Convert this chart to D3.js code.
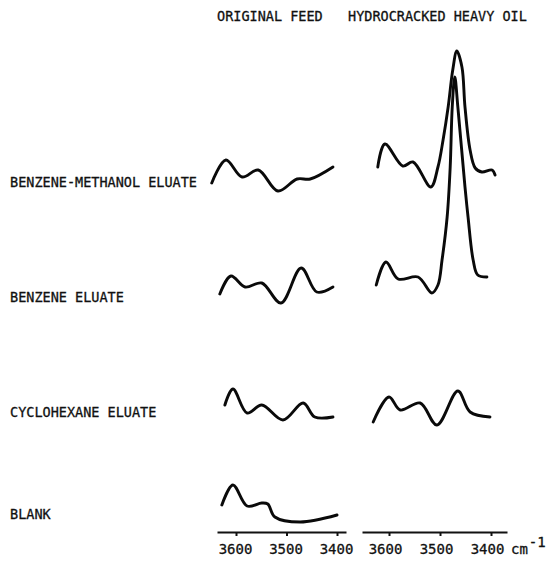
<!DOCTYPE html>
<html>
<head>
<meta charset="utf-8">
<script src="https://cdn.jsdelivr.net/npm/d3@7"></script>
<style>
  body { margin: 0; padding: 0; background: #fff; }
  svg { display: block; }
  text { font-family: 'DejaVu Sans Mono', monospace; fill: #111; stroke: #111; stroke-width: 0.3; }
</style>
</head>
<body>
<div id="main"></div>
<script>
const panelTitles = ['ORIGINAL FEED', 'HYDROCRACKED HEAVY OIL'];
const sampleNames = ['BENZENE-METHANOL ELUATE', 'BENZENE ELUATE', 'CYCLOHEXANE ELUATE', 'BLANK'];
const tickValues = [3600, 3500, 3400];
const unitLabel = 'cm';
const unitPower = '-1';

// spectra as [wavenumber (cm-1), relative absorbance above the row baseline]
const feedBenzeneMethanol = [
    [3648, -0.01], [3620, 0.22], [3588, 0.05], [3556, 0.12], [3517, -0.09],
    [3479, 0.03], [3453, 0.03], [3408, 0.15]
];
const feedBenzene = [
    [3632, 0.03], [3610, 0.21], [3582, 0.10], [3549, 0.14], [3511, -0.06],
    [3471, 0.29], [3440, 0.05], [3408, 0.10]
];
const feedCyclohexane = [
    [3622, 0.07], [3606, 0.23], [3578, -0.01], [3549, 0.07], [3507, -0.08],
    [3467, 0.09], [3444, -0.05], [3408, -0.05]
];
const feedBlank = [
    [3628, 0.09], [3606, 0.29], [3578, 0.08], [3549, 0.11], [3537, 0.10],
    [3523, -0.03], [3473, -0.08], [3400, -0.01]
];
const crackedBenzeneMethanol = [
    [3622, 0.15], [3608, 0.38], [3573, 0.16], [3553, 0.20], [3518, -0.05],
    [3504, 0.15], [3494, 0.42], [3484, 0.75], [3475, 1.12], [3467, 1.31],
    [3457, 1.15], [3451, 0.75], [3441, 0.32], [3431, 0.14], [3418, 0.10],
    [3398, 0.12], [3392, 0.07]
];
const crackedBenzene = [
    [3625, 0.12], [3606, 0.35], [3582, 0.18], [3543, 0.20], [3516, 0.04],
    [3504, 0.12], [3496, 0.37], [3486, 0.80], [3480, 1.30], [3476, 1.90],
    [3471, 2.20], [3465, 1.90], [3451, 1.10], [3445, 0.80], [3435, 0.37],
    [3426, 0.22], [3408, 0.20]
];
const crackedCyclohexane = [
    [3631, -0.10], [3600, 0.15], [3578, 0.02], [3539, 0.09], [3506, -0.13],
    [3465, 0.21], [3441, 0.00], [3402, -0.05]
];

const spectra = [
    {panel: 0, row: 0, points: feedBenzeneMethanol},
    {panel: 0, row: 1, points: feedBenzene},
    {panel: 0, row: 2, points: feedCyclohexane},
    {panel: 0, row: 3, points: feedBlank},
    {panel: 1, row: 0, points: crackedBenzeneMethanol},
    {panel: 1, row: 1, points: crackedBenzene},
    {panel: 1, row: 2, points: crackedCyclohexane}
];

const WIDTH = 551;
const HEIGHT = 561;
const AXISY = 532;
const ROWY = [182, 297, 412, 514];
const PANELS = [
    {tickRange: [236, 337], lineRange: [217, 346], titleX: 217, labelShift: -1},
    {tickRange: [389, 491], lineRange: [362, 507], titleX: 348, labelShift: -4}
];

const svg = d3.select('#main').append('svg')
    .attr('width', WIDTH)
    .attr('height', HEIGHT);

const scalesX = PANELS.map((p) => d3.scaleLinear().domain([tickValues[0], tickValues[2]]).range(p.tickRange));
const scaleY = d3.scaleLinear().domain([0, 1]).range([0, -100]);

// panel titles
svg.selectAll('text.title').data(panelTitles).enter().append('text')
    .attr('class', 'title')
    .attr('x', (d, i) => PANELS[i].titleX)
    .attr('y', 21)
    .attr('font-size', 13.5)
    .text((d) => d);

// row labels
svg.selectAll('text.sample').data(sampleNames).enter().append('text')
    .attr('class', 'sample')
    .attr('x', 10)
    .attr('y', (d, i) => ROWY[i] + 5)
    .attr('font-size', 13.5)
    .text((d) => d);

// spectra
const line = d3.line().curve(d3.curveCatmullRom.alpha(0.5));
svg.selectAll('path.spectrum').data(spectra).enter().append('path')
    .attr('class', 'spectrum')
    .attr('fill', 'none')
    .attr('stroke', '#0a0a0a')
    .attr('stroke-width', 2.9)
    .attr('stroke-linecap', 'round')
    .attr('stroke-linejoin', 'round')
    .attr('d', (s) => line(s.points.map(([wn, a]) => [scalesX[s.panel](wn), ROWY[s.row] + scaleY(a)])));

// axes
PANELS.forEach((p, i) => {
    const sx = scalesX[i];
    const axisScale = sx.copy()
        .domain([sx.invert(p.lineRange[0]), sx.invert(p.lineRange[1])])
        .range(p.lineRange);
    const g = svg.append('g')
        .attr('transform', `translate(0, ${AXISY})`)
        .call(d3.axisBottom(axisScale).tickValues(tickValues).tickSize(4).tickSizeOuter(0).tickPadding(8).tickFormat(d3.format('d')));
    g.select('.domain').attr('stroke', '#111').attr('stroke-width', 2);
    g.selectAll('.tick line').attr('stroke', '#111').attr('stroke-width', 2);
    g.selectAll('.tick text')
        .attr('font-family', "'DejaVu Sans Mono', monospace")
        .attr('font-size', 14)
        .attr('dx', p.labelShift)
        .attr('fill', '#111');
});

// unit label
const unit = svg.append('text')
    .attr('x', 511)
    .attr('y', 554)
    .attr('font-size', 14);
unit.append('tspan').text(unitLabel);
unit.append('tspan').attr('dx', 1).attr('dy', -7).text(unitPower);
</script>
</body>
</html>
